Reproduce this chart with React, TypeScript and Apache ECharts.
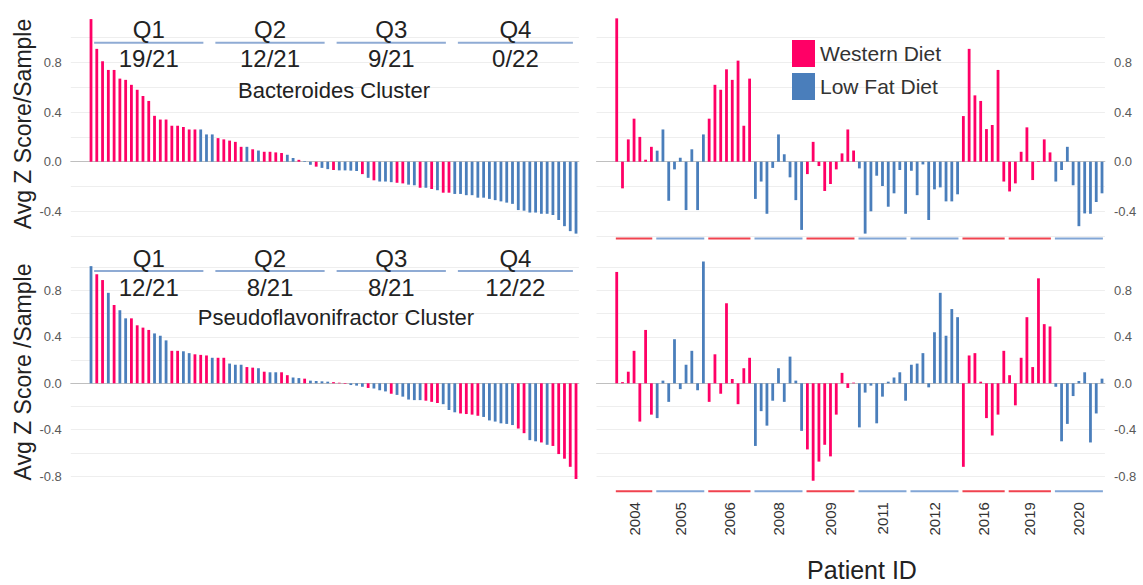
import React, { useEffect, useRef } from 'react';
import * as echarts from 'echarts';

// ---------- DATA ----------
// Left panels: samples sorted by average z score
const bacteroidesSortedValues = [
  1.15, 0.91, 0.81, 0.74, 0.74, 0.67, 0.66, 0.62, 0.58, 0.53,
  0.49, 0.37, 0.34, 0.34, 0.29, 0.29, 0.28, 0.26, 0.26, 0.26,
  0.22, 0.22, 0.19, 0.18, 0.17, 0.16, 0.12, 0.12, 0.10, 0.09,
  0.08, 0.08, 0.075, 0.07, 0.056, 0.03, 0.015, 0.005, -0.025, -0.04,
  -0.05, -0.06, -0.067, -0.07, -0.07, -0.072, -0.075, -0.10, -0.13, -0.15,
  -0.16, -0.16, -0.165, -0.17, -0.175, -0.185, -0.19, -0.21, -0.21, -0.22,
  -0.23, -0.25, -0.25, -0.26, -0.26, -0.27, -0.27, -0.29, -0.29, -0.30,
  -0.31, -0.32, -0.33, -0.34, -0.39, -0.395, -0.41, -0.41, -0.42, -0.42,
  -0.43, -0.47, -0.52, -0.56, -0.58,
];
const bacteroidesSortedDiet = (
  'WWWWWWWWWWWWWWWWWWW' + 'LLL' + 'WWWWW' + 'LWL' + 'WWWW' + 'LLW' + 'LLW' + 'LLW' +
  'LLLLW' + 'LW' + 'LLLWW' + 'LLWLWLWW' + 'LLLLLLLLLLLLLLLLLLLLLL'
).split('');

const pseudoSortedValues = [
  1.01, 0.94, 0.89, 0.78, 0.675, 0.63, 0.56, 0.56, 0.50, 0.48,
  0.46, 0.43, 0.41, 0.37, 0.28, 0.28, 0.276, 0.26, 0.25, 0.245,
  0.24, 0.22, 0.22, 0.22, 0.17, 0.16, 0.16, 0.14, 0.135, 0.13,
  0.10, 0.095, 0.095, 0.095, 0.07, 0.05, 0.045, 0.04, 0.023, 0.02,
  0.017, 0.014, 0.01, 0.005, -0.005, -0.015, -0.02, -0.03, -0.04, -0.045,
  -0.06, -0.07, -0.09, -0.10, -0.115, -0.14, -0.145, -0.145, -0.15, -0.16,
  -0.17, -0.18, -0.23, -0.25, -0.26, -0.265, -0.27, -0.28, -0.29, -0.32,
  -0.33, -0.345, -0.35, -0.36, -0.39, -0.43, -0.49, -0.50, -0.51, -0.53,
  -0.54, -0.61, -0.65, -0.72, -0.825,
];
const pseudoSortedDiet = (
  'LWWLWLLWWWWLLLWWLLWWW' + 'LWWLLLWWLWLLWWLLWLLLL' + 'WWWLLLWLLLWLLLLLWWWLL' + 'LWWWWLLLLLLWWLLWLWWWWW'
).split('');

// Right panels: samples grouped by patient
const bacteroidesByPatient = [
  1.156, -0.215, 0.18, 0.347, 0.20, 0.016, 0.12, 0.089, 0.26, -0.315,
  -0.062, 0.032, -0.39, 0.10, -0.39, 0.22, 0.347, 0.62, 0.58, 0.745,
  0.66, 0.815, 0.29, 0.67, -0.30, -0.16, -0.42, -0.05, 0.22, 0.06,
  -0.126, -0.31, -0.55, -0.10, 0.16, -0.035, -0.236, -0.18, -0.062, 0.067,
  0.26, 0.09, -0.054, -0.58, -0.40, -0.113, -0.196, -0.363, -0.255, -0.067,
  -0.42, -0.073, -0.27, -0.022, -0.47, -0.223, -0.207, -0.32, -0.32, -0.263,
  0.368, 0.91, 0.535, 0.49, 0.263, 0.296, 0.74, -0.16, -0.24, -0.175,
  0.08, 0.277, -0.148, 0.005, 0.18, 0.075, -0.16, -0.067, 0.12, -0.19,
  -0.52, -0.417, -0.42, -0.325, -0.255,
];
const pseudoByPatient = [
  0.96, 0.01, 0.10, 0.28, -0.33, 0.46, -0.27, -0.30, 0.023, -0.16,
  0.38, -0.05, 0.16, 0.28, -0.06, 1.05, -0.16, 0.25, -0.09, 0.69,
  0.037, -0.18, 0.13, 0.22, -0.54, -0.24, -0.365, -0.15, 0.13, -0.16,
  0.23, 0.023, -0.41, -0.57, -0.84, -0.675, -0.53, -0.63, -0.27, 0.09,
  -0.04, 0.006, -0.38, -0.08, -0.02, -0.345, -0.115, 0.014, 0.05, 0.095,
  -0.15, 0.16, 0.17, 0.26, -0.035, 0.44, 0.78, 0.41, 0.64, 0.57,
  -0.72, 0.24, 0.26, 0.014, -0.30, -0.45, -0.27, 0.28, 0.07, -0.19,
  0.22, 0.57, 0.14, 0.905, 0.51, 0.49, -0.03, -0.50, -0.35, -0.11,
  0.02, 0.095, -0.51, -0.26, 0.04,
];
const patientIds = ['2004', '2005', '2006', '2008', '2009', '2011', '2012', '2016', '2019', '2020'];
const patientStart = [0, 7, 16, 24, 33, 42, 51, 60, 68, 76];
const patientEnd = [6, 15, 23, 32, 41, 50, 59, 67, 75, 84];
const patientDiet = ['W', 'L', 'W', 'L', 'W', 'L', 'L', 'W', 'W', 'L'];

const quarterNames = ['Q1', 'Q2', 'Q3', 'Q4'];
const quarterStart = [0, 21, 42, 63];
const quarterEnd = [20, 41, 62, 84];
const bacteroidesWesternShare = ['19/21', '12/21', '9/21', '0/22'];
const pseudoWesternShare = ['12/21', '8/21', '8/21', '12/22'];

const yTicksTop = [-0.4, 0, 0.4, 0.8];
const yTicksBottom = [-0.8, -0.4, 0, 0.4, 0.8];

// ---------- STYLE ----------
const FONT = '"Liberation Sans", Arial, Helvetica, sans-serif';
const PINK = '#FF0066';
const BLUE = '#4A7EBB';
const RED_LINE = '#F0434F';
const BLUE_LINE = '#82A6D6';
const Q_LINE = '#8FABD4';
const DIET_NAME: Record<string, string> = { W: 'Western Diet', L: 'Low Fat Diet' };
const DIET_COLOR: Record<string, string> = { W: PINK, L: BLUE };

const patientBarDiet: string[] = bacteroidesByPatient.map((_, i) => {
  const g = patientStart.findIndex((s, k) => i >= s && i <= patientEnd[k]);
  return patientDiet[g];
});

function barPair(values: number[], diets: string[], g: number) {
  return ['W', 'L'].map((d) => ({
    type: 'bar',
    name: DIET_NAME[d],
    xAxisIndex: g,
    yAxisIndex: g,
    barWidth: 2.8,
    barGap: '-100%',
    silent: true,
    itemStyle: { color: DIET_COLOR[d] },
    data: values.map((v, i) => (diets[i] === d ? [i, v] : null)).filter((x) => x !== null),
  }));
}

function textStyle(text: string, size: number, align = 'center', fill = '#222') {
  return {
    text,
    font: `${size}px ${FONT}`,
    fill,
    align,
    verticalAlign: 'middle',
    textAlign: align,
    textVerticalAlign: 'middle',
  };
}

function quarterSeries(g: number, lineY: number, shares: string[]) {
  return {
    type: 'custom',
    xAxisIndex: g,
    yAxisIndex: g,
    silent: true,
    z: 5,
    encode: { x: [0, 1], y: 2 },
    data: quarterStart.map((s, i) => [s, quarterEnd[i], lineY]),
    renderItem: (params: any, api: any) => {
      const a = api.coord([api.value(0) - 0.5, api.value(2)]);
      const b = api.coord([api.value(1) + 0.5, api.value(2)]);
      const cx = (a[0] + b[0]) / 2;
      const i = params.dataIndex;
      return {
        type: 'group',
        children: [
          { type: 'line', shape: { x1: a[0] + 6, y1: a[1], x2: b[0] - 6, y2: a[1] }, style: { stroke: Q_LINE, lineWidth: 2 } },
          { type: 'text', x: cx, y: a[1] - 13, style: textStyle(quarterNames[i], 24) },
          { type: 'text', x: cx, y: a[1] + 16, style: textStyle(shares[i], 24) },
        ],
      };
    },
  };
}

function patientSeries(g: number, lineY: number, withLabels: boolean) {
  return {
    type: 'custom',
    xAxisIndex: g,
    yAxisIndex: g,
    silent: true,
    z: 5,
    encode: { x: [0, 1], y: 2 },
    data: patientStart.map((s, i) => [s, patientEnd[i], lineY]),
    renderItem: (params: any, api: any) => {
      const a = api.coord([api.value(0) - 0.5, api.value(2)]);
      const b = api.coord([api.value(1) + 0.5, api.value(2)]);
      const i = params.dataIndex;
      const children: any[] = [
        {
          type: 'line',
          shape: { x1: a[0] + 2, y1: a[1], x2: b[0] - 2, y2: a[1] },
          style: { stroke: patientDiet[i] === 'W' ? RED_LINE : BLUE_LINE, lineWidth: 2 },
        },
      ];
      if (withLabels) {
        children.push({
          type: 'text',
          x: (a[0] + b[0]) / 2,
          y: a[1] + 11,
          rotation: Math.PI / 2,
          style: textStyle(patientIds[i], 15, 'right', '#333'),
        });
      }
      return { type: 'group', children };
    },
  };
}

function yAxis(g: number, min: number, ticks: number[], position: string) {
  return {
    type: 'value',
    gridIndex: g,
    min,
    max: 1.2,
    interval: 0.2,
    position,
    axisLine: { show: false },
    axisTick: { show: false },
    axisLabel: {
      color: '#595959',
      fontSize: 13,
      fontFamily: FONT,
      margin: 9,
      formatter: (v: number) => {
        const r = Math.round(v * 10) / 10;
        return ticks.some((t) => Math.abs(t - r) < 1e-6) ? (Math.abs(r) < 1e-6 ? '0.0' : r.toFixed(1)) : '';
      },
    },
    splitLine: { show: true, showMinLine: false, showMaxLine: false, lineStyle: { color: '#EEEEEE', width: 1 } },
  };
}

function xAxis(g: number) {
  return {
    type: 'value',
    gridIndex: g,
    min: -3.5,
    max: 84.5,
    axisLine: { show: true, onZero: true, lineStyle: { color: '#BFBFBF', width: 1 } },
    axisTick: { show: false },
    axisLabel: { show: false },
    splitLine: { show: false },
  };
}

export default function App() {
  const ref = useRef<HTMLDivElement>(null);
  useEffect(() => {
    if (!ref.current) return;
    const chart = echarts.init(ref.current, null, { renderer: 'svg' });
    const option: any = {
      animation: false,
      backgroundColor: '#ffffff',
      textStyle: { fontFamily: FONT },
      grid: [
        { left: 70.8, top: 12.9, width: 508.1, height: 248, outerBoundsMode: 'none' },
        { left: 596.5, top: 12.9, width: 508.4, height: 248, outerBoundsMode: 'none' },
        { left: 70.8, top: 244.1, width: 508.1, height: 255.2, outerBoundsMode: 'none' },
        { left: 596.5, top: 244.1, width: 508.4, height: 255.2, outerBoundsMode: 'none' },
      ],
      xAxis: [xAxis(0), xAxis(1), xAxis(2), xAxis(3)],
      yAxis: [
        yAxis(0, -0.8, yTicksTop, 'left'),
        yAxis(1, -0.8, yTicksTop, 'right'),
        yAxis(2, -1.0, yTicksBottom, 'left'),
        yAxis(3, -1.0, yTicksBottom, 'right'),
      ],
      legend: {
        data: ['Western Diet', 'Low Fat Diet'],
        orient: 'vertical',
        left: 792,
        top: 40,
        padding: 0,
        itemWidth: 23,
        itemHeight: 27,
        itemGap: 6,
        icon: 'rect',
        selectedMode: false,
        textStyle: { fontSize: 21, color: '#333', fontFamily: FONT },
      },
      series: [
        ...barPair(bacteroidesSortedValues, bacteroidesSortedDiet, 0),
        ...barPair(bacteroidesByPatient, patientBarDiet, 1),
        ...barPair(pseudoSortedValues, pseudoSortedDiet, 2),
        ...barPair(pseudoByPatient, patientBarDiet, 3),
        quarterSeries(0, 0.96, bacteroidesWesternShare),
        quarterSeries(2, 0.968, pseudoWesternShare),
        patientSeries(1, -0.62, false),
        patientSeries(3, -0.93, true),
      ],
      graphic: [
        { type: 'text', z: 100, x: 23, y: 124, rotation: Math.PI / 2, style: textStyle('Avg Z Score/Sample', 23) },
        { type: 'text', z: 100, x: 23, y: 372, rotation: Math.PI / 2, style: textStyle('Avg Z Score /Sample', 23) },
        { type: 'text', z: 100, x: 334, y: 90, style: textStyle('Bacteroides Cluster', 22) },
        { type: 'text', z: 100, x: 336, y: 317, style: textStyle('Pseudoflavonifractor Cluster', 22) },
        { type: 'text', z: 100, x: 862, y: 570, style: textStyle('Patient ID', 25) },
      ],
    };
    chart.setOption(option);
    return () => chart.dispose();
  }, []);
  return (
    <div
      ref={ref}
      style={{ position: 'absolute', left: 0, top: 0, width: 1143, height: 585, background: '#fff' }}
    />
  );
}
